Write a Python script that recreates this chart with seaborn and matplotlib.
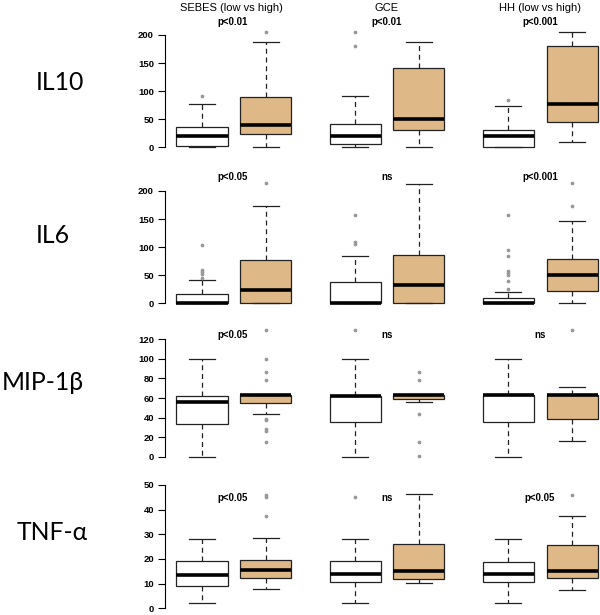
import numpy as np
import pandas as pd
import matplotlib
matplotlib.use("Agg")
import matplotlib.pyplot as plt
import seaborn as sns

# ---------------- data ----------------
columns = ["SEBES (low vs high)", "GCE", "HH (low vs high)"]
groups = ["low", "high"]
cytokines = ["IL10", "IL6", "MIP-1β", "TNF-α"]
positions = [1.0, 2.0, 3.4, 4.4, 5.8, 6.8]

# each box: (lower whisker, Q1, median, Q3, upper whisker); order SEBES low/high, GCE low/high, HH low/high
il10_stats = [(0, 3, 19.5, 36, 76.5), (1, 24, 39, 89.5, 187), (0, 5, 21, 41, 91),
              (1, 30, 50, 142, 187), (0, 1, 19.5, 31.5, 73), (9.5, 44.5, 78, 180, 205)]
il10_out = [[91], [205], [180, 205], [], [84], []]

il6_stats = [(0, 0, 0, 17, 41), (0, 0, 23.5, 77.5, 173), (0, 0, 0, 37.5, 85),
             (0, 0, 32, 86, 213), (0, 0, 0, 9.5, 19.5), (1, 22.5, 50.5, 79, 146.5)]
il6_out = [[44.5, 52, 56, 59, 104.5], [215], [105.5, 110, 156.5], [],
           [25.5, 39.5, 50, 54, 57.5, 84.5, 94.5, 157], [173, 215]]

mip_stats = [(0, 33, 55.5, 62.5, 100), (43.5, 54.5, 63, 63.4, 63.4), (0, 35.2, 62, 62.4, 100),
             (55.6, 58.7, 62.7, 63.4, 63.4), (0, 35.2, 62.6, 63, 100), (15.7, 38.9, 62.6, 63, 71.6)]
mip_out = [[], [15.3, 26.6, 28.6, 37.5, 38.5, 78.5, 86.3, 100, 130], [130],
           [0.5, 15.3, 43.3, 78.1, 86.3], [], [130]]

tnf_stats = [(2, 9.2, 13.4, 19, 28.2), (7.7, 12.2, 15.4, 19.5, 28.6), (2, 10.8, 13.8, 19, 28.2),
             (10.4, 11.9, 15.3, 25.9, 46.2), (2, 10.8, 14, 18.8, 28.2), (7.3, 12.2, 15.1, 25.5, 37.4)]
tnf_out = [[], [37.4, 45.3, 45.9], [45.3], [], [], [46]]

pvalues = [["p<0.01", "p<0.01", "p<0.001"],
           ["p<0.05", "ns", "p<0.001"],
           ["p<0.05", "ns", "ns"],
           ["p<0.05", "ns", "p<0.05"]]

yticks = [[0, 50, 100, 150, 200], [0, 50, 100, 150, 200],
          [0, 20, 40, 60, 80, 100, 120], [0, 10, 20, 30, 40, 50]]

all_stats = [il10_stats, il6_stats, mip_stats, tnf_stats]
all_out = [il10_out, il6_out, mip_out, tnf_out]


def expand(stats, outliers):
    """Build a sample whose quartiles/whiskers equal the read box statistics."""
    lo, q1, med, q3, hi = stats
    below = sorted(v for v in outliers if v < lo)
    above = sorted(v for v in outliers if v > hi)
    k = max(len(below), len(above)) + 1
    n = 4 * k + 1
    vals = np.empty(n)
    i_lo = len(below)
    i_hi = n - 1 - len(above)
    vals[:i_lo] = below
    vals[i_lo:k] = lo
    vals[k:2 * k] = q1
    vals[2 * k:3 * k] = med
    vals[3 * k:i_hi] = q3
    vals[i_hi] = hi
    vals[i_hi + 1:] = above
    return vals


# ---------------- layout (pixels) ----------------
W, H = 600, 615
fig = plt.figure(figsize=(W / 100, H / 100), dpi=100)

# (zero pixel, px per unit, ylim)
row_geom = [(147.3, 0.5615, (-8, 215)),
            (303.3, 0.5615, (-8, 222)),
            (456.7, 0.978, (-5, 136)),
            (608.3, 2.466, (-2, 51))]
x_left_px, x_right_px = 165, 600
xlim = (0.42, 7.238)

palette = {"low": "white", "high": "#DEB887"}
tick_font = dict(family="Liberation Sans", weight="bold", size=6.8)

for r in range(4):
    y0, sc, ylim = row_geom[r]
    top_px = y0 - ylim[1] * sc
    bot_px = y0 - ylim[0] * sc
    ax = fig.add_axes([x_left_px / W, 1 - bot_px / H,
                       (x_right_px - x_left_px) / W, (bot_px - top_px) / H])
    rows = []
    for b in range(6):
        vals = expand(all_stats[r][b], all_out[r][b])
        for v in vals:
            rows.append({"pos": positions[b], "group": groups[b % 2], "value": v})
    df = pd.DataFrame(rows)
    sns.boxplot(data=df, x="pos", y="value", hue="group", native_scale=True,
                palette=palette, hue_order=groups, dodge=False, width=0.8,
                saturation=1, whis=1.5, linecolor="#222222", linewidth=0.9,
                legend=False, ax=ax,
                whiskerprops={"linestyle": (0, (4, 3))},
                medianprops={"linewidth": 2.6, "color": "black"},
                flierprops={"marker": "o", "markersize": 1.7,
                            "markerfacecolor": "#999999", "markeredgecolor": "#999999"})
    ax.set_xlim(*xlim)
    ax.set_ylim(*ylim)
    ax.set_xlabel("")
    ax.set_ylabel("")
    ax.set_xticks([])
    for s in ["top", "right", "bottom"]:
        ax.spines[s].set_visible(False)
    ax.spines["left"].set_bounds(yticks[r][0], yticks[r][-1])
    ax.spines["left"].set_linewidth(0.8)
    ax.set_yticks(yticks[r])
    ax.set_yticklabels([str(t) for t in yticks[r]], fontdict=tick_font)
    ax.tick_params(axis="y", length=5, width=0.8, pad=3, direction="out")
    ax.set_facecolor("none")

# column titles
col_x = [231, 387, 540]
for c in range(3):
    fig.text(col_x[c] / W, 1 - 8 / H, columns[c], ha="center", va="center",
             family="Liberation Sans", size=8)

# p-values
p_y = [22, 176.7, 335, 498.3]
p_x = [233, 387, 540]
for r in range(4):
    for c in range(3):
        fig.text(p_x[c] / W, 1 - p_y[r] / H, pvalues[r][c], ha="center", va="center",
                 family="Liberation Sans", weight="bold", size=7)

# row labels
lab_x = [59.5, 52.5, 43, 52.5]
lab_y = [82.5, 235.5, 383, 532]
for r in range(4):
    fig.text(lab_x[r] / W, 1 - lab_y[r] / H, cytokines[r], ha="center", va="center",
             family=["Lato", "DejaVu Sans"], size=17.8)

fig.savefig("out.png", dpi=100)
